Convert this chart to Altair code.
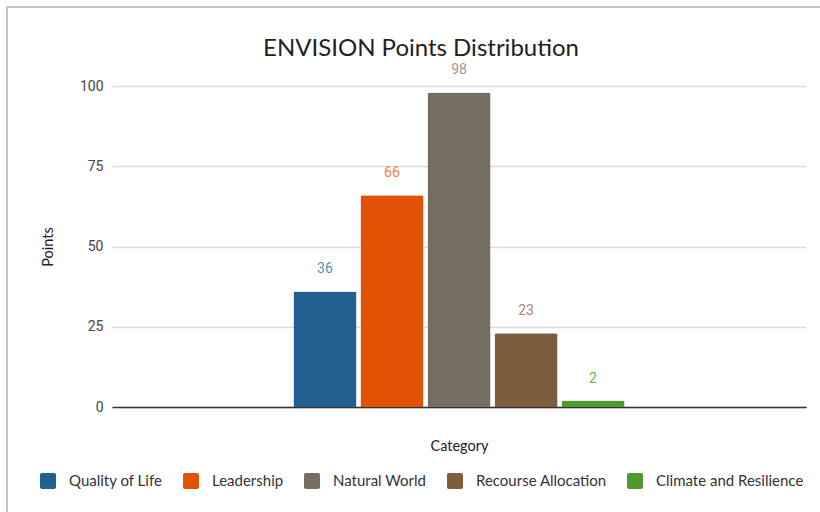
import altair as alt
import pandas as pd

categories = ["Quality of Life", "Leadership", "Natural World", "Recourse Allocation", "Climate and Resilience"]
points = [36, 66, 98, 23, 2]
bar_colors = ["#245f91", "#e15205", "#736d62", "#7d5e3c", "#4e9a2f"]
label_colors = ["#5a8dc0", "#f0804a", "#9e958b", "#a8876a", "#6cb348"]
group = ["", "", "", "", ""]

df = pd.DataFrame({
    "group": group,
    "category": categories,
    "points": points,
    "label_color": label_colors,
})

rounded_square = "M -0.75 -1 L 0.75 -1 Q 1 -1 1 -0.75 L 1 0.75 Q 1 1 0.75 1 L -0.75 1 Q -1 1 -1 0.75 L -1 -0.75 Q -1 -1 -0.75 -1 Z"

x_enc = alt.X(
    "group:N",
    scale=alt.Scale(paddingInner=0, paddingOuter=0.548),
    axis=alt.Axis(
        title="Category", labels=False, ticks=False, domainColor="#333333", domainWidth=1.5,
        titleFont="Lato", titleFontSize=14.5, titleFontWeight="normal", titleColor="#222222",
        titlePadding=32, grid=False,
    ),
)
xoff_enc = alt.XOffset("category:N", sort=categories, scale=alt.Scale(paddingInner=0.06, paddingOuter=0))
y_enc = alt.Y(
    "points:Q",
    scale=alt.Scale(domain=[0, 100]),
    axis=alt.Axis(
        values=[0, 25, 50, 75, 100], title="Points", titleFont="Lato", titleFontSize=14.5,
        titleFontWeight="normal", titleColor="#222222", labelFont="Roboto", labelFontSize=14,
        labelColor="#444444", labelPadding=9, ticks=False, domain=False, gridColor="#dadada",
        gridWidth=1.5, titlePadding=24,
    ),
)

base = alt.Chart(df)

bars = base.mark_bar(cornerRadiusTopLeft=2, cornerRadiusTopRight=2).encode(
    x=x_enc,
    xOffset=xoff_enc,
    y=y_enc,
    color=alt.Color(
        "category:N", sort=categories, title=None,
        scale=alt.Scale(domain=categories, range=bar_colors),
        legend=alt.Legend(
            orient="none", legendX=-72, legendY=387, direction="horizontal",
            symbolType=rounded_square, symbolSize=256, symbolStrokeWidth=0,
            labelFont="Lato", labelFontSize=15, labelColor="#333333",
            columnPadding=20, labelOffset=13,
        ),
    ),
)

labels = base.mark_text(dy=-18, fontSize=14, font="Roboto", baseline="alphabetic").encode(
    x=x_enc,
    xOffset=xoff_enc,
    y=y_enc,
    text=alt.Text("points:Q"),
    color=alt.Color("label_color:N", scale=None),
)

border = alt.Chart(pd.DataFrame({"a": [0]})).mark_rect(
    fillOpacity=0, stroke="#c6c6c6", strokeWidth=2
).encode(x=alt.value(-105), x2=alt.value(720), y=alt.value(-79), y2=alt.value(500))

chart = alt.layer(border, bars, labels).properties(
    width=694,
    height=321,
    autosize=alt.AutoSizeParams(type="none"),
    padding={"left": 112, "top": 86, "right": 14, "bottom": 105},
    title=alt.TitleParams(
        "ENVISION Points Distribution", font="Lato", fontSize=24, fontWeight="normal",
        color="#222222", dx=-38, offset=-55, anchor="middle",
    ),
).configure(background="white").configure_view(strokeWidth=0)

chart.save("out.html", embed_options={"renderer": "svg", "actions": False})
